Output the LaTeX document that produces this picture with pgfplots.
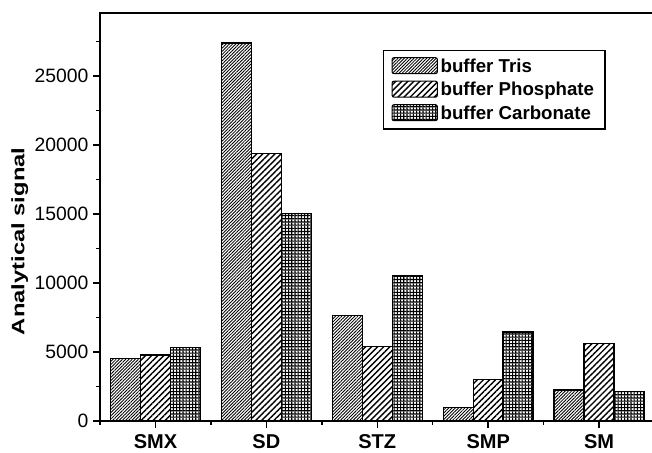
\documentclass[border=0pt]{standalone}
\usepackage{pgfplots}
\pgfplotsset{compat=1.18}
\usepackage{fontspec}
\setmainfont{Liberation Sans}
\usetikzlibrary{patterns,patterns.meta}
\pgfdeclarepatternformonly{checks}{\pgfqpoint{-0.1pt}{-0.1pt}}{\pgfqpoint{2.5pt}{2.5pt}}{\pgfqpoint{2.4pt}{2.4pt}}{%
  \pgfpathrectangle{\pgfpointorigin}{\pgfqpoint{2.4pt}{0.85pt}}%
  \pgfpathrectangle{\pgfpointorigin}{\pgfqpoint{0.85pt}{2.4pt}}%
  \pgfusepath{fill}}
\pgfplotstableread{
x tris phos carb
0 4530 4780 5330
1 27400 19400 15050
2 7640 5400 10560
3 960 3020 6450
4 2240 5600 2130
}\datatable
\begin{document}
\begin{tikzpicture}
\begin{axis}[
  scale only axis,
  width=415.9pt, height=306.2pt,
  xmin=-0.5, xmax=4.5,
  ymin=0, ymax=29600,
  ybar=0pt, bar width=0.27,
  axis line style={line width=1.4pt},
  xtick={0,1,2,3,4},
  xticklabels={SMX,SD,STZ,SMP,SM},
  minor xtick={-0.5,0.5,1.5,2.5,3.5},
  ytick={0,5000,10000,15000,20000,25000},
  minor ytick={2500,7500,12500,17500,22500,27500},
  xtick pos=bottom, ytick pos=left,
  tick align=outside,
  major tick length=5.2pt, minor tick length=3pt,
  every tick/.style={line width=1.1pt, black},
  /pgf/number format/assume math mode=true,
  scaled y ticks=false,
  yticklabel style={/pgf/number format/1000 sep={}, font=\fontsize{14.5}{16}\selectfont},
  xticklabel style={font=\fontsize{15}{17}\selectfont\bfseries, yshift=-1.5pt},
  ylabel={\scalebox{1.32}[1]{\fontsize{13.5}{15}\selectfont\bfseries Analytical signal}},
  ylabel style={at={(ticklabel cs:0.44)}, yshift=-2pt},
  legend style={at={(0.51,0.909)}, anchor=north west, draw=black, line width=1.1pt,
    font=\fontsize{14}{16}\selectfont\bfseries, row sep=2pt, inner xsep=6pt, inner ysep=4pt},
  legend cell align=left,
  legend image code/.code={\draw[#1, line width=0.8pt, rounded corners=1.5pt] (0pt,-5.5pt) rectangle (34pt,6.5pt);},
]
\addplot[draw=black, line width=1pt, pattern={Lines[angle=45,distance=1.7pt,line width=0.65pt]}] table[x=x,y=tris]{\datatable};
\addplot[draw=black, line width=1pt, pattern={Lines[angle=45,distance=3.2pt,line width=1.05pt]}] table[x=x,y=phos]{\datatable};
\addplot[draw=black, line width=1pt, pattern=checks] table[x=x,y=carb]{\datatable};
\legend{buffer Tris, buffer Phosphate, buffer Carbonate}
\end{axis}
\pgfresetboundingbox
\path[use as bounding box] ([shift={(-75pt,-24pt)}]current axis.south west) rectangle ([shift={(-1.9pt,9.5pt)}]current axis.north east);
\end{tikzpicture}
\end{document}
